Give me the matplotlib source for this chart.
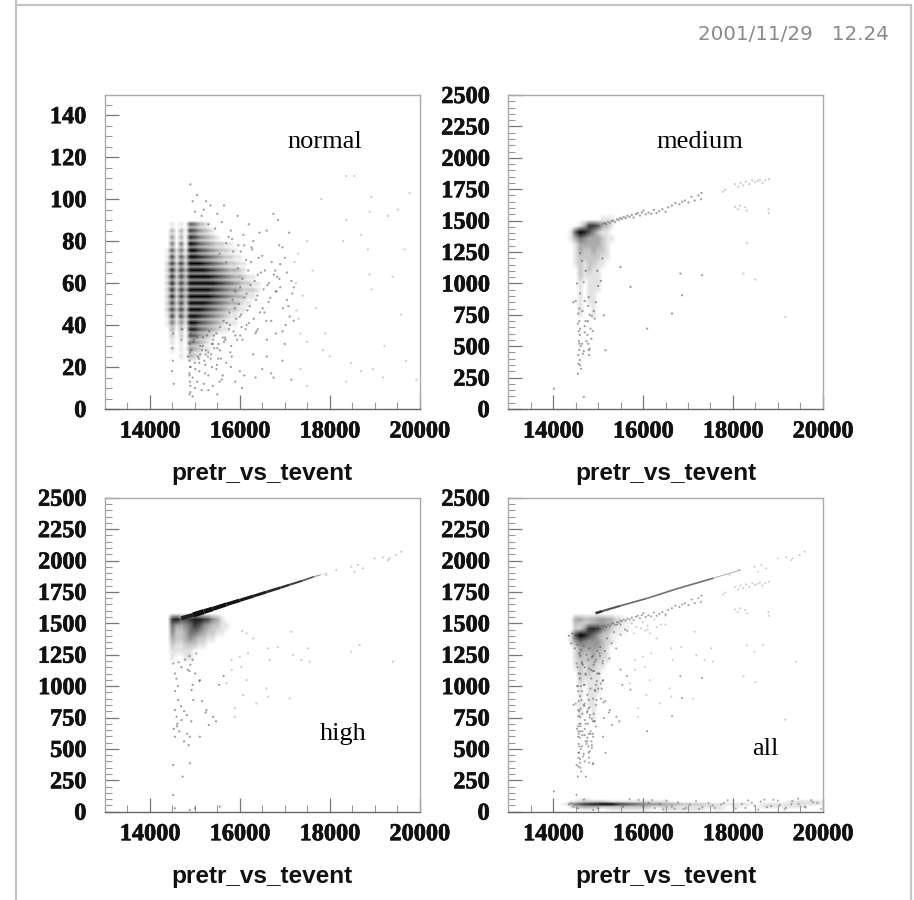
import numpy as np
import matplotlib
matplotlib.use("Agg")
import matplotlib.pyplot as plt
import matplotlib.patheffects as pe
from matplotlib.lines import Line2D

W, H = 914, 900
xlabel_text = "pretr_vs_tevent"
date_text = "2001/11/29   12.24"
panel_names = ["normal", "medium", "high", "all"]

# ---- density (0 = white ... 9 = black) ----
normal_cols = [14400, 14500, 14600, 14700, 14800, 14900, 15000, 15100, 15200, 15300, 15400, 15500, 15600,
               15700, 15800, 15900, 16000, 16100, 16200, 16300, 16400, 16500, 16600, 16700]
normal_rows = [88.0, 84.875, 81.75, 78.625, 75.5, 72.375, 69.25, 66.125, 63.0, 59.875, 56.75, 53.625, 50.5,
               47.375, 44.25, 41.125, 38.0, 34.875, 31.75, 28.625, 25.5]
normal_grid = ["010106532100",
               "030307643210",
               "040308754321",
               "050509865432211",
               "161519976543221100",
               "171629987654322110",
               "272729998765432211",
               "282739999876543321",
               "282739999987654332110",
               "282739999998765432211",
               "282739999987654432221",
               "282739999987654332110",
               "272729999876543321100",
               "272729998765432211",
               "171629987654321100",
               "151419976543211100",
               "030308865432110",
               "020206643210000",
               "010105432100",
               "010104321100",
               "000103210"]

medium_cols = [14300, 14400, 14500, 14600, 14700, 14800, 14900, 15000, 15100, 15200, 15300, 15400]
medium_rows = [1500, 1450, 1400, 1350, 1300, 1250, 1200, 1150, 1100, 1050, 1000, 950, 900, 850, 800, 750, 700]
medium_grid = ["000000001110",
               "000137763210",
               "016986421100",
               "013543332110",
               "001333332100",
               "001322322100",
               "001222221100",
               "001212211000",
               "000212110000",
               "000211110000",
               "000101110000",
               "000101110000",
               "000101100000",
               "000101100000",
               "000100100000",
               "000100100000",
               "000000000000"]

high_cols = [14400, 14500, 14600, 14700, 14800, 14900, 15000, 15100, 15200, 15300, 15400, 15500, 15600, 15700, 15800]
high_rows = [1525, 1475, 1425, 1375, 1325, 1275, 1225]
high_grid = ["078667887643100",
             "053345764322110",
             "042235543221100",
             "032234322110000",
             "021122211000000",
             "011111000000000",
             "010011000000000"]

band_cols = [14300, 14500, 14700, 14900, 15100, 15300, 15500, 15700, 15900, 16100, 16300, 16500, 16700, 16900,
             17100, 17300, 17500, 17700, 17900, 18100, 18300, 18500, 18700, 18900, 19100, 19300, 19500, 19700, 19900]
band_rows = [100, 80, 60, 40, 20]
band_grid = ["00100000000000000000000000000",
             "01222111111100000000000001111",
             "15789976544332221111101111111",
             "02332222221211111101001111100",
             "00110111110111110100000000000"]

# ---- streaks ----
high_sx = [14700, 14960, 15200, 15400, 15700, 16000, 16300, 16600, 16900, 17100, 17400, 17650, 17800, 17950]
high_sy = [1540, 1566, 1593, 1615, 1650, 1683, 1716, 1750, 1783, 1806, 1840, 1871, 1886, 1900]
high_sw = [3.0, 3.8, 3.4, 3.0, 2.6, 2.3, 2.1, 1.9, 1.7, 1.5, 1.2, 0.8, 0.5]
high_sg = ["#202020", "#101010", "#101010", "#101010", "#141414", "#181818", "#202020", "#282828", "#303030", "#404040",
           "#555555", "#999999", "#cccccc"]
all_sx = [14942, 15100, 15500, 16100, 16800, 17570, 18164]
all_sy = [1580, 1598, 1640, 1700, 1780, 1860, 1924]
all_sw = [1.8, 1.5, 1.2, 1.2, 1.2, 0.7]
all_sg = ["#303030", "#555555", "#666666", "#707070", "#707070", "#aaaaaa"]

# ---- individual points ----
normal_px = [18550, 18370, 17815, 19780, 19520, 18890, 18700, 18850, 18300, 18370, 18930, 19300, 19670, 19400, 18890,
             18930, 19590, 19220, 18480, 18700, 19190, 19930, 18370, 17850, 18000, 18960, 19700, 17500, 17620, 17300,
             17100, 17400, 17700, 17250, 16900, 17050, 16850, 17200, 16950, 16750, 16600, 16880, 17150, 17350, 17000,
             16500, 16300, 16650, 16400, 16800, 16550, 16200, 16700, 16350, 15650, 15800, 15950, 16100, 16250, 15750,
             15500, 15600, 15350, 15200, 15050, 14900, 15150, 15300, 15450, 14950, 15000, 15250, 15550, 15700, 15850,
             16000, 16150, 16400, 16600, 16800, 17000, 17500, 17900, 14900, 14880, 14920, 15050, 15180, 15300, 15420,
             15560, 15680, 15820, 14880, 14900, 15100, 15240, 15380, 15520, 15700, 14500, 14510, 14490, 14530, 14520,
             14880, 14890, 14950, 15100, 15300, 15600, 16300, 16750, 17350, 17500, 15300, 14900, 14880, 15000, 15200,
             14700, 14720, 14680, 14900, 15050, 15400, 15550, 15800, 16100, 14880, 14950, 15150, 15500, 16050, 16600,
             16000, 15900, 16350, 16500, 16700, 16950, 17150, 15000, 15120, 15230, 15350, 15480, 15620, 14850, 14900,
             16020, 16140, 16280, 16420, 16560, 16710, 16830, 15960, 16060, 16190, 16330, 16470, 16620, 16760, 16900,
             15900, 16010, 16150, 16240, 16390, 16530, 16680, 16820, 15840, 15980, 16100, 16220, 16360, 16510, 16640,
             15770, 15890, 16030, 16170, 16310, 16450, 16590, 15700, 15830, 15970, 16080, 16260, 16440, 15640, 15780,
             15920, 16040, 16200, 16370, 15560, 15710, 15860, 16010, 16130, 15480, 15620, 15760, 15900, 16060, 15410,
             15530, 15670, 15810, 15940, 15250, 15380, 15500, 15650, 15790, 15160, 15290, 15430, 15580, 15070, 15210,
             15360, 15490, 14980, 15120, 15270, 15400, 14910, 15040, 15180, 15320, 14960, 15090, 15230, 14890, 15010,
             17050, 17200, 16960, 17110, 17260, 16880, 17020, 17170, 17310, 16790, 16950, 17080, 17220]
normal_py = [111, 111, 100, 103, 95, 94, 83, 76, 80, 90, 101, 92, 76, 63, 64,
             57, 45, 30, 22, 18, 15, 14, 13, 28, 25, 19, 23, 80, 66, 74,
             84, 54, 48, 60, 69, 52, 90, 42, 37, 93, 85, 78, 61, 36, 72,
             73, 80, 60, 64, 56, 46, 88, 42, 36, 97, 85, 92, 78, 70, 82,
             93, 89, 97, 95, 102, 107, 92, 88, 86, 99, 94, 99, 74, 70, 75,
             44, 40, 38, 33, 36, 31, 32, 36, 35, 31, 28, 34, 30, 27, 35,
             28, 33, 25, 23, 20, 22, 26, 20, 24, 22, 29, 23, 18, 12, 36,
             17, 13, 15, 18, 16, 14, 26, 15, 19, 11, 9, 11, 16, 10, 12,
             33, 38, 44, 8, 13, 11, 13, 20, 16, 7, 6, 9, 7, 10, 25,
             18, 13, 15, 19, 17, 23, 14, 22, 26, 17, 24, 19, 16, 25, 20,
             75, 71, 76, 72, 66, 70, 63, 67, 62, 66, 61, 65, 59, 64, 58,
             56, 58, 55, 59, 54, 57, 53, 56, 52, 50, 53, 49, 52, 48, 51,
             46, 48, 45, 47, 43, 46, 42, 79, 81, 78, 83, 77, 84, 42, 40,
             43, 39, 41, 37, 39, 41, 37, 35, 38, 36, 34, 38, 35, 33, 33,
             31, 34, 30, 33, 28, 31, 29, 32, 27, 28, 25, 29, 24, 25, 23,
             26, 21, 33, 30, 35, 31, 36, 38, 34, 37, 32, 24, 21, 27, 19,
             65, 58, 48, 44, 47, 62, 40, 55, 43, 66, 77, 49, 70]

medium_px = [15100, 15150, 15180, 15220, 15260, 15300, 15340, 15380, 15420, 15460, 15490, 15530, 15570, 15610, 15650,
             15700, 15750, 15790, 15840, 15880, 15930, 15970, 16010, 16060, 16120, 16180, 16240, 16300, 16360, 16430,
             16500, 16560, 16640, 16720, 16810, 16870, 16930, 17010, 17080, 17150, 17230, 17290, 17300, 17780, 17830,
             18050, 18120, 18170, 18230, 18290, 18360, 18430, 18490, 18550, 18600, 18660, 18720, 18800,
             18050, 18110, 18160, 18270, 18310, 18790, 18800, 15496, 15720, 16090, 16644, 16867, 16830, 17311, 18237,
             18496, 18311, 19163, 15126, 15163, 14015, 14681,
             14450, 14500, 14560, 14580, 14600, 14590, 14570, 14610, 14580, 14560, 14590, 14600, 14570, 14550, 14580,
             14600, 14650, 14700, 14760, 14780, 14790, 14800, 14770, 14830, 14850, 14790, 14780, 14810, 14900, 14950,
             14880, 14920, 15000, 14980, 15060, 15100, 14700, 14740, 14680, 14720, 14810, 14860, 14640, 14660, 14700,
             14620, 14560, 14550, 14580, 14640, 14530, 14600, 14720, 14680]
medium_py = [1475, 1480, 1470, 1490, 1478, 1495, 1500, 1488, 1510, 1505, 1522, 1515, 1530, 1520, 1538,
             1530, 1545, 1525, 1552, 1560, 1540, 1565, 1580, 1550, 1565, 1555, 1585, 1560, 1575, 1590,
             1570, 1605, 1620, 1640, 1630, 1650, 1660, 1645, 1690, 1660, 1700, 1670, 1720, 1730, 1745,
             1790, 1770, 1800, 1780, 1810, 1790, 1820, 1805, 1815, 1825, 1800, 1820, 1830,
             1610, 1590, 1620, 1605, 1580, 1590, 1560, 1131, 972, 640, 760, 906, 1078, 1065, 1078,
             1031, 1323, 733, 746, 468, 162, 96,
             850, 860, 760, 700, 640, 590, 540, 500, 470, 430, 390, 350, 620, 680, 800,
             920, 780, 660, 590, 520, 470, 430, 700, 640, 560, 890, 820, 750, 780, 850,
             620, 720, 980, 1100, 1020, 1200, 610, 540, 460, 700, 480, 740, 520, 440, 860,
             320, 360, 280, 520, 1180, 1000, 1240, 1100, 1010]

high_px = [17926, 18148, 18481, 18630, 18741, 18556, 19000, 19185, 19333, 19481, 19593, 19296,
           17148, 17519, 17185, 17556, 17370, 15815, 16185, 16000, 16037, 16630, 16667, 18667, 18480, 19407,
           16593, 16148, 16630, 17111, 16370, 16074, 15704,
           14556, 14630, 14963, 14926, 15111, 14704, 14593, 15407, 15889, 15889, 15259, 14889, 15111, 14556,
           14519, 14889, 14726, 14519, 14889, 15000, 14556, 15556,
           14520, 14560, 14590, 14640, 14700, 14780, 14840, 14900, 14950, 15010, 15100, 14560, 14620, 14880, 14950,
           14690, 14760, 14820, 14920, 15160, 15240, 14600, 14650, 14830, 15310, 15470, 15540, 15640, 15820,
           14530, 14610, 14760, 14860, 14880, 15030, 16150, 16300, 16050, 16850]
high_py = [1884, 1924, 1950, 1964, 1937, 1911, 2017, 2025, 2017, 2043, 2070, 2003,
           1433, 1300, 1247, 1194, 1207, 1207, 1261, 1234, 1154, 1300, 1207, 1327, 1274, 1194,
           982, 1048, 916, 902, 862, 929, 1022,
           809, 889, 889, 969, 1048, 730, 756, 756, 823, 756, 809, 597, 597, 597,
           372, 385, 279, 133, 13, 27, 27, 40,
           1180, 1100, 1060, 1190, 1150, 1210, 1130, 1170, 1210, 1100, 1040, 960, 1000, 1120, 1010,
           840, 800, 770, 720, 880, 790, 680, 640, 620, 690, 720, 1010, 1080, 1130,
           660, 700, 560, 530, 1240, 1260, 1420, 1380, 1440, 1310]

all_px = [14350, 14400, 14420, 14480, 14540, 14580, 14620, 14680, 14740, 14800, 14860, 14920, 14980, 15040, 15100,
          14540, 14600, 14660, 14720, 14790, 14850, 14910, 14970, 15030, 15080, 14560, 14640, 14700, 14760, 14830,
          14890, 14940, 15060, 15120, 14570, 14610, 14680, 14750, 14810, 14880, 14950, 14560, 14650, 14720, 14790,
          14860, 14560, 14600, 14700, 14800, 14880, 15500, 15750, 16000, 16250, 16500, 15600, 15850, 16100, 16400,
          15200, 15300, 15400, 15250, 15150, 15050, 15350, 15500, 15650, 15800, 15950, 16100, 16300, 16500, 15420]
all_py = [1400, 1340, 1420, 1300, 1330, 1260, 1290, 1320, 1250, 1300, 1230, 1190, 1280, 1240, 1180,
          1150, 1100, 1170, 1090, 1140, 1060, 1120, 1040, 1100, 980, 1000, 960, 1010, 930, 980,
          900, 960, 900, 870, 880, 820, 850, 790, 830, 720, 680, 640, 610, 560, 620,
          510, 470, 420, 400, 390, 380, 1490, 1500, 1510, 1530, 1560, 1450, 1470, 1480, 1490,
          1380, 1340, 1300, 1220, 1280, 1310, 1430, 1410, 1440, 1420, 1460, 1450, 1470, 1490, 1490]

band_px = [16000, 16120, 16260, 16380, 16520, 16640, 16780, 16900, 17040, 17180, 17320, 17460, 17600, 17740, 17880,
           18060, 18200, 18340, 18480, 18620, 18760, 18900, 19040, 19180, 19320, 19460, 19600, 19740, 19880, 19960,
           18280, 18420, 18560, 18700, 18850, 19000, 19150, 19300, 19450, 19620, 19780, 16450, 16700, 16950, 17250,
           17550, 17800, 15700, 15900, 16200, 14400, 14350, 14450]
band_py = [42, 72, 28, 60, 88, 40, 74, 22, 55, 84, 36, 68, 30, 58, 90,
           25, 62, 90, 48, 80, 36, 95, 55, 30, 85, 62, 40, 92, 70, 24,
           30, 72, 16, 96, 45, 88, 18, 60, 104, 34, 76, 18, 24, 30, 22,
           50, 70, 100, 94, 92, 70, 60, 40]

# ---- layout (pixels in the reference) ----
AX_LEFT = [105, 508.3]
AX_TOP = [95, 497.7]
AX_W, AX_H = 314.5, 314


def add_axes(col, row, ymax, ymajor, yminor):
    ax = fig.add_axes([AX_LEFT[col] / W, 1 - (AX_TOP[row] + AX_H) / H, AX_W / W, AX_H / H])
    ax.set_xlim(13000, 20000)
    ax.set_ylim(0, ymax)
    ax.set_xticks([14000, 16000, 18000, 20000])
    ax.set_xticks(np.arange(13500, 20000, 500), minor=True)
    ax.set_yticks(np.arange(0, ymax + 1, ymajor))
    ax.set_yticks(np.arange(0, ymax + 1, yminor), minor=True)
    ax.tick_params(which="major", direction="in", length=10, width=0.9, color="#777777", pad=9,
                   labelsize=17.5)
    ax.tick_params(axis="y", which="major", pad=13.5)
    ax.tick_params(which="minor", direction="in", length=5, width=0.8, color="#999999")
    for lab in ax.get_xticklabels() + ax.get_yticklabels():
        lab.set_fontfamily("Liberation Serif")
        lab.set_fontweight("bold")
        lab.set_color("#111111")
        lab.set_path_effects([pe.withStroke(linewidth=0.5, foreground="#111111")])
    for name, sp in ax.spines.items():
        sp.set_color("#666666" if name == "bottom" else "#aaaaaa")
        sp.set_linewidth(1.0)
    ax.set_xlabel(xlabel_text, fontfamily="Liberation Sans", fontweight="bold", fontsize=17.6,
                  color="#111111", labelpad=14)
    return ax


def density(ax, cols, rows, grid, scale=1.0, stripes=False):
    n = len(cols)
    m = np.array([[int(c) for c in r.ljust(n, "0")] for r in grid], dtype=float) / 9 * scale
    top, bottom = rows[0], rows[-1]
    dy = (top - bottom) / (len(rows) - 1)
    dx = (cols[-1] - cols[0]) / (n - 1)
    if stripes:
        m = np.repeat(m, 2, axis=0)
        m[1::2] *= 0.45
        dy = dy / 2
    # a blank margin lets the marks fade out instead of ending in a hard edge
    m = np.pad(m, 1)
    rgba = np.zeros(m.shape + (4,))
    rgba[..., 3] = m
    ext = [cols[0] - 1.5 * dx, cols[-1] + 1.5 * dx, top - dy * (m.shape[0] - 1.5), top + 1.5 * dy]
    ax.imshow(rgba, extent=ext, aspect="auto", interpolation="bilinear", zorder=1)
    ax.set_xlim(13000, 20000)


def streak(ax, xs, ys, ws, grays):
    for i in range(len(ws)):
        ax.plot(xs[i:i + 2], ys[i:i + 2], color=grays[i], lw=ws[i], zorder=2, solid_capstyle="butt")


def dots(ax, xs, ys, near=0.5, far=0.26, size=2.6, split=15700):
    xs = np.asarray(xs)
    rgba = np.zeros((len(xs), 4))
    rgba[:, :3] = 0.25
    rgba[:, 3] = np.where(xs > split, far, near)
    ax.scatter(xs, ys, s=size, c=rgba, linewidths=0, zorder=3)


fig = plt.figure(figsize=(W / 100, H / 100), dpi=100, facecolor="white")

# outer page frame
for xs, ys in [((16, 16), (0, 900)), ((16, 911), (5, 5)), ((911, 911), (5, 900))]:
    fig.add_artist(Line2D([x / W for x in xs], [1 - y / H for y in ys], color="#c4c4c4", lw=1.6))

# normal
ax1 = add_axes(0, 0, 150, 20, 5)
ax1.set_yticks(np.arange(0, 141, 20))
density(ax1, normal_cols, normal_rows, normal_grid, stripes=True)
dots(ax1, normal_px, normal_py, split=17200)
ax1.set_ylim(0, 149.6)

# medium
ax2 = add_axes(1, 0, 2500, 250, 50)
density(ax2, medium_cols, medium_rows, medium_grid)
dots(ax2, medium_px, medium_py, split=17400)
ax2.set_ylim(0, 2500)

# high
ax3 = add_axes(0, 1, 2500, 250, 50)
density(ax3, high_cols, high_rows, high_grid)
streak(ax3, high_sx, high_sy, high_sw, high_sg)
dots(ax3, high_px, high_py)
ax3.set_ylim(0, 2500)

# all: the three samples together
ax4 = add_axes(1, 1, 2500, 250, 50)
density(ax4, medium_cols, medium_rows, medium_grid)
density(ax4, high_cols, high_rows, high_grid, scale=0.4)
density(ax4, band_cols, band_rows, band_grid)
streak(ax4, all_sx, all_sy, all_sw, all_sg)
dots(ax4, medium_px, medium_py, size=2.2, split=17400)
dots(ax4, high_px, high_py, size=2.2)
dots(ax4, all_px, all_py, size=2.2)
dots(ax4, band_px, band_py, near=0.4, far=0.4, size=2.6)
ax4.set_ylim(0, 2500)

# panel names and date stamp
for (px, py), name in zip([(325, 142), (700, 142), (343, 734), (765, 749)], panel_names):
    fig.text(px / W, 1 - py / H, name, family="Liberation Serif", fontsize=19, color="black",
             ha="center", va="center")
fig.text(889 / W, 1 - 35 / H, date_text, family="DejaVu Sans", fontsize=14.3, color="#8a8a8a",
         ha="right", va="center")

fig.savefig("out.png", dpi=100, facecolor="white")
